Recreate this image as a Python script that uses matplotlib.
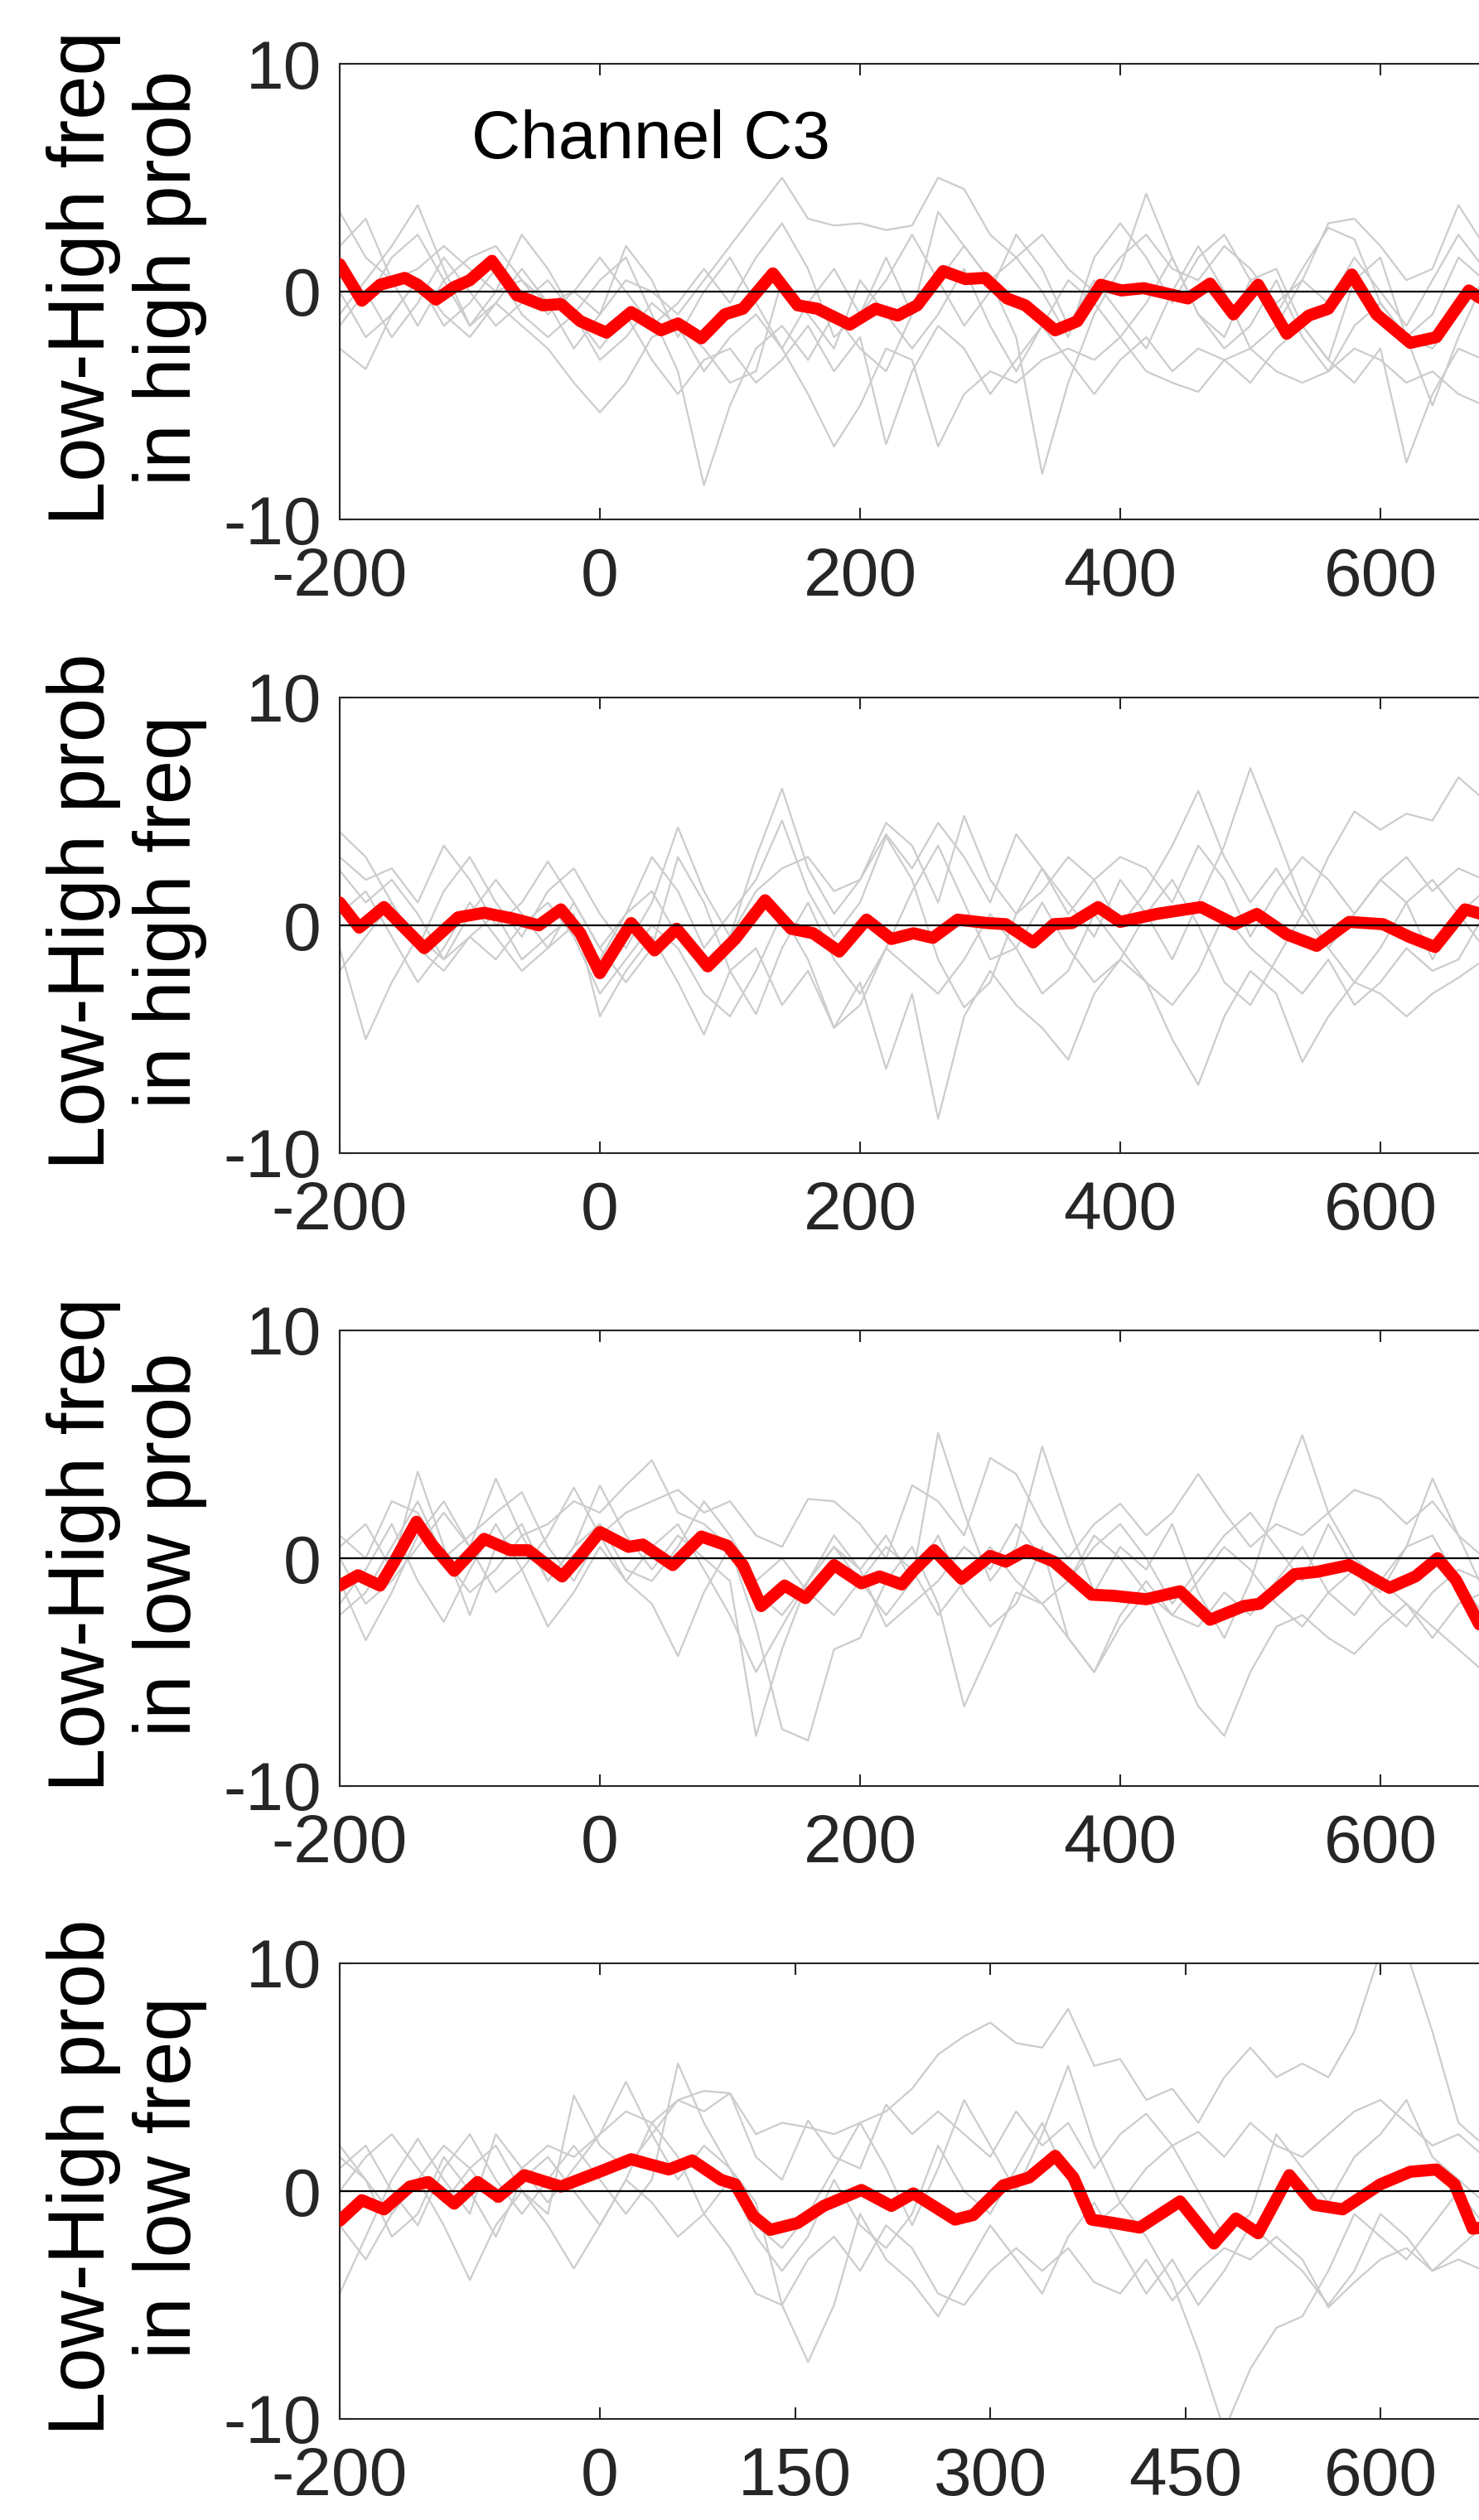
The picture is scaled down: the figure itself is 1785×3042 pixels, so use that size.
import matplotlib
matplotlib.use('Agg')
import matplotlib.pyplot as plt

# time axis (ms) shared by the single-subject traces
t_subj = list(range(-200, 701, 20))

# ---------------- panel 1 : Low-High freq in high prob ----------------
red1_t = [-200, -183, -169, -150, -140, -126, -112, -100, -83, -64,
          -44, -30, -15, 5, 24, 47, 60, 78, 96, 110,
          133, 152, 167, 192, 212, 229, 244, 264, 281, 296,
          313, 327, 350, 367, 385, 401, 418, 452, 469, 487,
          506, 528, 545, 560, 578, 597, 623, 643, 668, 690]
red1_v = [1.2, -0.4, 0.3, 0.6, 0.3, -0.35, 0.2, 0.5, 1.35, -0.15,
          -0.6, -0.55, -1.3, -1.8, -0.9, -1.7, -1.4, -2.05, -1.0, -0.75,
          0.8, -0.6, -0.75, -1.45, -0.75, -1.05, -0.6, 0.9, 0.55, 0.6,
          -0.3, -0.6, -1.7, -1.3, 0.3, 0.05, 0.15, -0.3, 0.35, -1.0,
          0.3, -1.85, -1.05, -0.75, 0.75, -1.0, -2.25, -2.0, 0.05, -0.8]
subj1 = [
    [3.5, 1.5, 0.5, 1.0, 2.0, 1.0, 0.0, 0.5, -0.5, 0.0,
     -1.0, 0.5, 0.0, -1.0, 0.5, 2.0, 3.5, 5.0, 3.2, 2.9,
     3.0, 2.7, 2.9, 5.0, 4.5, 2.5, 1.5, 2.5, 1.0, 0.0,
     1.5, 2.5, 1.0, 0.5, 2.0, 1.0, -0.5, 0.5, 3.0, 3.2,
     2.0, 0.5, 1.0, 3.8, 2.0, 0.5],
    [-1.0, 0.5, 2.0, 3.8, 1.0, -1.5, 0.0, 2.5, 1.0, -1.0,
     0.5, 1.5, -1.0, -3.5, -8.5, -5.0, -2.5, -1.5, -3.0, -1.0,
     -2.5, -3.5, -1.0, 0.5, 2.0, 0.5, -2.0, -8.0, -4.0, -1.0,
     1.0, 4.3, 1.5, -1.0, -2.0, 0.5, 1.0, -1.5, -3.0, 0.5,
     1.5, -2.0, -5.0, -2.0, 0.5, 1.0],
    [-2.5, -3.4, -1.0, 0.5, -1.0, -2.0, -0.5, -1.5, -2.5, -4.0,
     -5.3, -4.0, -2.0, -1.5, -3.5, -2.0, -1.0, -2.5, -4.5, -6.8,
     -5.0, -2.5, -3.0, -6.8, -4.5, -3.5, -4.0, -3.0, -2.5, -3.0,
     -2.0, -3.5, -4.0, -4.4, -3.0, -2.5, -3.5, -4.0, -3.5, -2.5,
     -3.0, -4.0, -3.5, -4.5, -5.0, -5.5],
    [2.0, 3.2, 0.5, -1.5, 0.5, 1.5, 2.0, 0.5, -1.0, 0.0,
     1.5, 0.0, -1.5, -0.5, 1.0, -0.5, 1.5, 3.0, 1.0, -2.0,
     -1.0, 1.5, -1.0, 3.5, 2.0, 0.5, 1.5, 0.0, -2.0, 1.5,
     3.0, 1.5, -0.5, 1.5, 2.5, 0.5, -1.0, 1.0, 2.8, 2.3,
     -0.5, -2.0, -1.0, 1.5, 0.5, -0.5],
    [0.0, -2.0, -1.0, 0.5, -1.5, -0.5, 1.0, -1.0, -2.0, -1.0,
     -2.5, -1.0, -3.0, -4.5, -3.0, -2.5, -4.0, -3.0, -1.5, -3.5,
     -2.0, -6.7, -3.5, -1.5, -2.5, -4.5, -3.0, -1.5, -3.0, -4.5,
     -3.0, -2.0, -3.5, -2.5, -3.0, -4.0, -2.5, -1.5, -3.0, -4.0,
     -2.5, -7.5, -4.5, -2.5, -3.0, -2.0],
    [1.0, -0.5, 1.5, 2.5, 0.5, -1.5, -0.5, 1.0, -0.5, -2.5,
     -1.0, 2.0, 0.5, -2.0, 0.0, 1.5, -0.5, -2.5, -0.5, 1.0,
     -1.0, 0.5, 2.5, 0.5, -1.5, 0.0, 2.5, 1.0, -1.5, 0.5,
     -1.0, -2.5, 0.0, 2.0, 0.0, -2.5, -1.5, 0.5, -0.5, 1.5,
     0.0, -1.5, 0.5, 2.5, 1.0, -1.0],
    [-1.5, 0.0, -2.0, -0.5, 1.5, 0.0, -1.5, -0.5, 0.5, -1.0,
     -3.0, -2.0, -0.5, -1.5, -2.5, -4.0, -3.5, 0.5, -1.0, -2.5,
     0.5, -1.0, -2.5, -1.0, 1.0, -1.5, -3.5, -1.5, 0.5, -0.5,
     -2.0, -0.5, 1.5, -1.0, -2.5, -1.5, 0.5, -2.0, -3.5, -1.5,
     -0.5, -2.0, -2.5, -1.0, 0.5, -0.5],
]

# ---------------- panel 2 : Low-High prob in high freq ----------------
red2_t = [-200, -185, -166, -135, -109, -89, -67, -47, -30, -15,
          0, 24, 42, 59, 83, 104, 127, 147, 164, 184,
          205, 224, 241, 256, 275, 298, 312, 333, 349, 363,
          383, 400, 428, 462, 488, 505, 528, 551, 576, 602,
          622, 642, 665, 690]
red2_v = [1.0, -0.1, 0.8, -1.0, 0.35, 0.55, 0.3, 0.0, 0.7, -0.35,
          -2.1, 0.1, -1.1, -0.15, -1.8, -0.6, 1.1, -0.15, -0.35, -1.15,
          0.25, -0.6, -0.35, -0.55, 0.25, 0.1, 0.05, -0.75, 0.05, 0.1,
          0.8, 0.15, 0.5, 0.8, 0.05, 0.5, -0.4, -0.9, 0.15, 0.05,
          -0.5, -0.95, 0.7, 0.3]
subj2 = [
    [4.1, 3.0, 1.0, -1.0, 1.5, 3.0, 1.0, -0.5, 1.5, 2.5,
     0.5, -1.0, 1.0, 4.3, 1.5, -0.5, 3.0, 6.0, 2.5, 0.5,
     2.0, 4.5, 3.5, 1.0, 4.8, 2.0, 0.5, 1.5, 3.0, 2.0,
     0.0, 1.5, 3.5, 5.9, 3.0, 1.0, 2.5, 0.5, 3.0, 5.0,
     4.2, 4.9, 4.6, 6.5, 5.5, 4.5],
    [2.4, 1.0, 2.0, 0.5, -1.5, 0.5, 2.0, 0.5, -1.0, 0.0,
     -1.5, 0.5, 3.0, 1.5, -1.0, 0.5, 2.0, 4.6, 1.5, -0.5,
     1.0, 3.9, 2.0, -1.5, -3.6, -2.5, 0.5, 2.5, 1.0, -0.5,
     2.0, 0.5, -1.5, 1.0, 3.5, 6.9, 4.0, 1.0, -1.0, 0.5,
     2.0, 1.0, -1.5, 0.5, 1.5, 0.5],
    [-1.0, -5.0, -2.5, -0.5, -1.5, -0.5, 0.5, -1.5, -0.5, 0.5,
     -4.0, -2.0, -0.5, -2.5, -4.8, -2.0, -1.0, -3.5, -2.0, -4.5,
     -2.5, -6.3, -3.0, -8.5, -4.0, -2.0, -3.5, -4.5, -5.9, -3.0,
     -1.5, -2.5, -5.0, -7.0, -4.0, -2.0, -3.0, -6.0, -4.0, -2.5,
     -3.0, -4.0, -3.0, -2.3, -1.5, -2.0],
    [0.5, 1.5, -0.5, -2.5, -1.0, 1.0, -0.5, -2.0, -1.0, 1.0,
     -1.0, -2.5, -1.0, 3.0, 1.0, -2.0, -3.9, -1.0, 1.0, -1.5,
     -3.0, -1.0, 1.5, 3.5, 1.0, -1.5, -1.0, 1.0, -1.0, -2.5,
     -1.5, 0.5, 2.0, 0.0, -2.5, -3.5, -1.5, 0.5, -1.0, -2.5,
     -1.0, 1.0, 2.0, 0.5, -1.0, -0.5],
    [3.0, 2.0, 2.5, 1.0, 3.5, 2.0, 0.0, 1.0, 2.8, 1.0,
     -1.0, 0.5, 1.5, -0.5, -2.0, -0.5, 1.5, 2.5, 3.0, 1.5,
     2.0, 4.0, 2.5, 4.5, 3.0, 1.0, 4.0, 2.5, 0.5, 2.0,
     3.0, 2.5, 1.0, 3.5, 2.0, -0.5, 1.5, 3.0, 2.0, 0.5,
     2.0, 3.0, 1.5, 2.5, 2.0, 1.0],
    [-2.0, -0.5, 1.0, -1.0, -2.0, -0.5, -1.5, 0.0, 1.0, -0.5,
     -3.0, -1.5, 0.0, -1.0, -3.0, -4.0, -2.0, 0.5, -1.5, -4.5,
     -3.5, -1.0, -2.0, -3.0, -1.5, 0.5, -1.0, -3.0, -2.0, 0.5,
     -1.0, -2.5, -3.5, -2.0, 0.5, -1.0, -2.0, -3.0, -1.5, -3.5,
     -2.5, -1.0, -2.0, -1.5, 0.5, -1.0],
]

# ---------------- panel 3 : Low-High freq in low prob ----------------
red3_t = [-200, -186, -169, -158, -141, -129, -112, -89, -69, -55,
          -29, -15, 0, 22, 33, 56, 78, 98, 110, 124,
          142, 158, 180, 201, 215, 232, 241, 257, 278, 300,
          312, 328, 349, 378, 395, 420, 446, 469, 495, 507,
          534, 551, 576, 607, 627, 644, 658, 676, 690]
red3_v = [-1.2, -0.75, -1.2, -0.15, 1.6, 0.6, -0.55, 0.85, 0.35, 0.35,
          -0.8, 0.1, 1.15, 0.5, 0.6, -0.3, 0.95, 0.55, -0.3, -2.1,
          -1.2, -1.75, -0.3, -1.1, -0.8, -1.15, -0.55, 0.35, -0.9, 0.1,
          -0.15, 0.35, -0.15, -1.6, -1.65, -1.8, -1.45, -2.7, -2.1, -2.0,
          -0.7, -0.6, -0.3, -1.3, -0.8, 0.0, -0.95, -2.9, -3.2]
subj3 = [
    [0.5, 1.5, -0.5, 3.8, 0.5, -2.5, 0.5, 1.5, -1.0, 0.5,
     3.2, 1.0, -0.5, 1.0, 0.0, -1.0, -7.8, -4.0, -1.0, 0.5,
     -0.5, 1.0, -1.0, 5.5, 2.0, -1.0, 0.5, 4.9, 1.5, -1.5,
     0.5, -0.5, 1.5, -1.5, -3.5, -1.0, 2.5, 5.4, 2.0, 0.0,
     -1.0, 0.5, 3.5, 1.0, -1.5, -0.5],
    [-1.0, -3.6, -1.5, 1.0, 2.5, 0.5, 3.5, 1.0, 1.5, 2.5,
     2.0, 3.2, 4.3, 2.0, 1.5, 0.5, -3.0, -7.5, -8.0, -4.0,
     -3.5, -1.0, 0.5, -2.0, -6.5, -4.0, -1.5, -2.0, -3.5, -5.0,
     -3.0, -1.5, -4.0, -6.5, -7.8, -5.0, -3.0, -2.5, -3.5, -4.2,
     -3.0, -2.0, -3.0, -4.0, -5.0, -5.5],
    [-2.0, -0.5, 1.5, -1.0, -2.8, -0.5, 1.5, -0.5, -3.0, -1.5,
     0.5, -1.0, -2.0, -4.3, -1.5, 0.5, -1.5, -2.5, -1.0, 0.5,
     -1.0, -2.5, -1.0, 1.0, -1.5, -3.0, -2.0, 0.5, -3.5, -5.0,
     -2.5, -1.0, -2.5, -3.0, -1.5, -2.5, -1.0, 0.5, -1.5, -2.5,
     -1.0, -2.0, -3.5, -2.0, -1.5, -2.5],
    [1.0, 0.0, 2.5, 2.0, 0.0, 1.0, 2.0, 2.9, 0.5, -1.0,
     1.0, 2.0, 2.5, 3.0, 2.0, 2.5, 1.0, 0.5, 2.6, 2.5,
     1.5, 0.0, 3.2, 2.5, 1.0, 4.4, 3.7, 1.5, 0.0, 1.5,
     2.4, 1.0, 2.0, 3.7, 2.0, 0.5, 1.5, 1.0, 2.0, 3.0,
     2.6, 1.5, 2.5, 1.0, 0.0, 0.5],
    [-2.5, -1.5, 0.5, 2.5, 0.0, -1.5, -0.5, 1.0, -1.0, 0.5,
     1.5, -0.5, -1.0, 0.5, 2.5, 1.0, -1.0, 0.0, -1.5, -2.5,
     -1.0, 0.5, -0.5, -2.5, -1.0, 0.5, -1.0, -2.0, -1.0, 1.0,
     0.0, -1.5, -2.5, -1.0, 0.5, -0.5, -2.0, -3.0, -1.5, -0.5,
     -2.0, -3.0, -1.5, -0.5, -1.0, -2.0],
    [0.0, -2.0, -1.0, 0.5, 2.0, 0.5, -1.5, -0.5, 1.0, 3.1,
     1.0, -1.0, 0.5, 1.5, -0.5, -2.5, -5.0, -3.0, -1.0, 1.0,
     -0.5, -3.0, -2.0, -1.0, 0.5, -0.5, 1.5, 0.0, -1.0, 0.5,
     1.5, 0.0, -2.0, -0.5, 1.0, 2.0, 0.5, -1.0, 1.5, -0.5,
     -1.5, 0.5, 1.0, -1.0, -2.5, -3.0],
]

# ---------------- panel 4 : Low-High prob in low freq ----------------
red4_t = [-200, -183, -166, -146, -132, -112, -94, -78, -58, -30,
          2, 24, 53, 71, 93, 104, 118, 131, 152, 172,
          201, 224, 241, 273, 287, 310, 330, 350, 364, 378,
          395, 415, 446, 472, 489, 506, 530, 549, 571, 600,
          623, 643, 657, 671, 690]
red4_v = [-1.3, -0.4, -0.8, 0.2, 0.4, -0.55, 0.4, -0.25, 0.7, 0.2,
          0.9, 1.4, 0.95, 1.35, 0.5, 0.3, -1.1, -1.7, -1.4, -0.65,
          0.05, -0.65, -0.1, -1.25, -1.05, 0.25, 0.6, 1.55, 0.6, -1.25,
          -1.4, -1.6, -0.45, -2.3, -1.2, -1.85, 0.7, -0.6, -0.8, 0.3,
          0.85, 0.95, 0.3, -1.65, -1.5]
subj4 = [
    [1.5, 0.5, -1.0, 0.5, 2.0, 1.0, -0.5, 1.0, 2.0, 1.5,
     2.5, 3.5, 3.0, 4.0, 4.4, 4.3, 2.5, 3.0, 2.8, 2.5,
     3.0, 3.5, 4.5, 6.0, 6.8, 7.4, 6.5, 6.3, 8.0, 5.5,
     5.8, 4.0, 4.5, 3.0, 5.0, 6.3, 5.0, 5.6, 5.0, 7.0,
     10.5, 10.5, 7.0, 3.0, 2.0, 1.5],
    [-4.5, -2.0, 0.5, 2.3, 0.5, -1.0, 2.5, 1.0, -0.5, 1.0,
     2.5, 4.8, 2.5, 0.5, 2.0, 1.0, -0.5, -5.0, -7.5, -5.0,
     -1.0, -3.0, -4.0, -5.5, -3.5, -1.5, -3.0, -4.5, -2.0, -0.5,
     -2.5, -4.5, -3.0, -5.0, -3.5, -1.5, -2.5, -3.5, -5.0, -3.5,
     -1.0, -2.0, -3.5, -2.5, -1.5, -2.0],
    [1.0, 2.0, 0.0, -1.5, 1.0, 2.5, 0.5, -1.0, 0.5, 2.0,
     0.5, -1.0, 0.5, 5.6, 3.0, 1.0, -1.5, -2.5, -1.0, 1.0,
     3.0, 1.0, -1.5, 1.0, 4.0, 2.0, 0.0, 2.5, 5.5, 2.0,
     -0.5, -2.0, -4.0, -7.0, -10.5, -7.8, -6.0, -5.5, -3.5, -1.0,
     -2.0, -3.0, -1.5, 0.0, -1.5, -2.5],
    [2.0, 0.5, -2.0, -1.0, 1.5, 0.0, -2.0, 0.5, 1.5, 0.0,
     -1.5, 0.5, 3.0, 1.5, -1.0, 0.5, -2.0, -3.5, -2.0, 0.5,
     -1.5, -2.5, -1.0, 2.0, 0.0, -1.0, 1.0, 3.0, 0.5, -1.5,
     -0.5, 1.0, 2.0, 0.0, -2.0, -1.0, 2.5, 1.0, -0.5, 1.5,
     2.5, 4.0, 1.5, 0.5, -0.5, 0.0],
    [-1.5, -3.0, -1.0, 0.5, -1.5, -3.9, -1.5, 0.0, -1.5, -3.4,
     -1.5, 0.5, -0.5, -2.0, -1.0, -2.5, -4.5, -5.0, -3.0, -2.0,
     -3.5, -1.5, -2.5, -4.5, -5.0, -3.5, -2.5, -3.5, -2.5, -4.0,
     -4.5, -3.0, -4.8, -3.5, -2.5, -3.0, -2.0, -3.0, -5.1, -4.0,
     -3.0, -2.5, -3.5, -3.0, -3.5, -3.0],
    [0.0, 1.5, 2.5, 1.0, -0.5, 1.0, 2.0, 0.0, -1.0, 4.2,
     2.0, 1.0, 2.5, 4.0, 3.5, 4.3, 1.5, 0.5, 3.1, 1.5,
     1.0, 3.8, 2.5, 3.5, 2.5, 1.5, 3.5, 2.0, 3.0, 1.0,
     2.5, 3.4, 2.0, 2.6, 1.5, 3.0, 2.0, 1.5, 2.5, 3.5,
     4.0, 3.0, 2.0, 2.5, 1.5, 1.0],
]

ylabels = ['Low-High freq\nin high prob', 'Low-High prob\nin high freq',
           'Low-High freq\nin low prob', 'Low-High prob\nin low freq']
xticks_std = [-200, 0, 200, 400, 600]
xticks_last = [-200, 0, 150, 300, 450, 600]

plt.rcParams['font.family'] = ['Liberation Sans', 'DejaVu Sans']
plt.rcParams['axes.unicode_minus'] = False

W, H = 1785, 3042
fig = plt.figure(figsize=(W / 100, H / 100), dpi=100)

panels = [(red1_t, red1_v, subj1), (red2_t, red2_v, subj2),
          (red3_t, red3_v, subj3), (red4_t, red4_v, subj4)]
tops = [77, 842, 1606, 2370]
dark = '#262626'

for i, (rt, rv, subj) in enumerate(panels):
    # the axes run on past the right edge of the figure, as in the source image
    ax = fig.add_axes([410 / W, 1 - (tops[i] + 550) / H, 1570 / W, 550 / H])
    for s in subj:
        ax.plot(t_subj, s, color='#cccccc', lw=1.6, zorder=1)
    ax.plot(rt, rv, color='red', lw=10.5, solid_joinstyle='round',
            solid_capstyle='round', zorder=3)
    ax.axhline(0, color='black', lw=1.6, zorder=4)

    ax.set_xlim(-200, 800)
    ax.set_ylim(-10, 10)
    ax.set_yticks([-10, 0, 10])
    ax.set_xticks(xticks_last if i == 3 else xticks_std)
    ax.tick_params(direction='in', length=10, width=1.5, top=True, right=False,
                   labelsize=59, colors=dark)
    ax.tick_params(axis='x', pad=24)
    ax.tick_params(axis='y', pad=16)
    for sp in ax.spines.values():
        sp.set_color(dark)
        sp.set_linewidth(1.5)

    ax.set_ylabel(ylabels[i], fontsize=69, color='black', linespacing=1.2)
    ax.yaxis.set_label_coords(-0.102, 0.53)

    if i == 0:
        ax.text(-99, 6.6, 'Channel C3', fontsize=59, va='center', ha='left',
                color='black')

fig.savefig('out.png', dpi=100)
